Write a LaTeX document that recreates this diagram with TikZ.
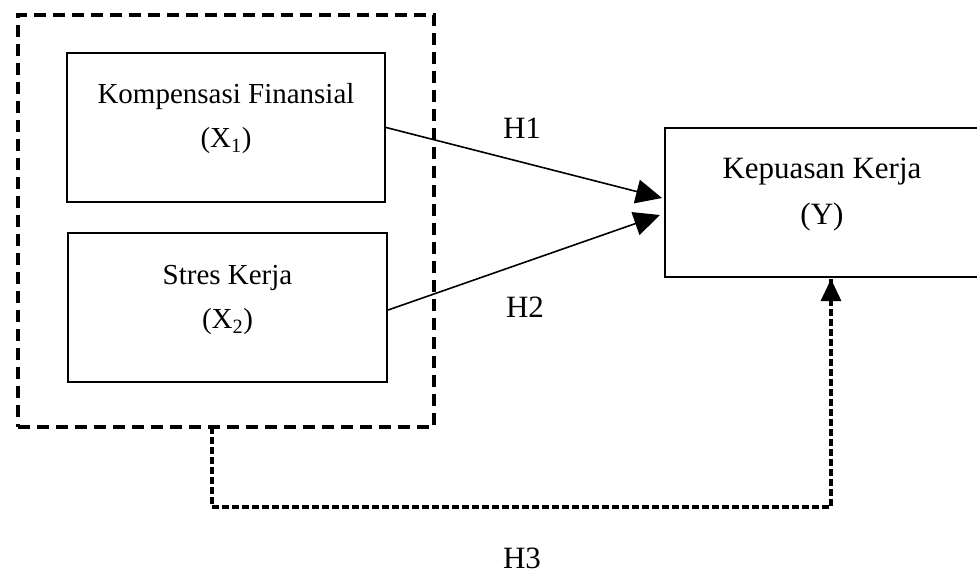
\documentclass[tikz,border=0pt]{standalone}
\usepackage{fontspec}
\setmainfont{Liberation Serif}
\usetikzlibrary{arrows.meta}
\begin{document}
\begin{tikzpicture}[x=1pt,y=-1pt,
  box/.style={draw=black,line width=2.2pt,minimum width=#1,minimum height=149pt,inner sep=0pt},
  lbl/.style={align=center,font=\fontsize{29}{44}\selectfont},
  rlbl/.style={align=center,font=\fontsize{31}{46}\selectfont},
  hyp/.style={font=\fontsize{31}{36}\selectfont},
  conn/.style={line width=1.6pt,-{Triangle[length=26pt,width=24pt]}},
  outerdash/.style={draw=black,line width=3.5pt,dash pattern=on 12pt off 7pt},
  smalldash/.style={line width=3.5pt,dash pattern=on 7pt off 3pt}
  ]
\useasboundingbox (0,0) rectangle (977,575);
\clip (0,0) rectangle (977,575);
% outer dashed frame
\node[outerdash,minimum width=416pt,minimum height=412pt,inner sep=0pt] (outer) at (226,221) {};
% boxes
\node[box=318pt] (x1) at (226,127.5) {};
\node[lbl] (x1t) at (226,119) {Kompensasi Finansial\\(X\textsubscript{1})};
\node[box=319pt] (x2) at (227.5,307.5) {};
\node[lbl] (x2t) at (227.5,300) {Stres Kerja\\(X\textsubscript{2})};
\node[box=314pt,minimum height=149pt] (y) at (822,202.5) {};
\node[rlbl] (yt) at (822,195) {Kepuasan Kerja\\(Y)};
% arrows
\coordinate (t1) at (662,198);
\coordinate (t2) at (660,215);
\draw[conn] (x1.east) -- (t1);
\draw[conn] (x2.east |- 0,310) -- (t2);
% labels
\node[hyp] (h1) at (522,128) {H1};
\node[hyp] (h2) at (525,307) {H2};
\node[hyp] (h3) at (522,558) {H3};
% dashed connector
\coordinate (c1) at (212,427);
\coordinate (c2) at (831,507);
\coordinate (c3) at (831,279);
\coordinate (c4) at (831,300);
\draw[smalldash] (c1) |- (c2) -- (c3);
\draw[line width=3pt,-{Triangle[length=22pt,width=20pt]}] (c4) -- (c3);
\end{tikzpicture}
\end{document}
